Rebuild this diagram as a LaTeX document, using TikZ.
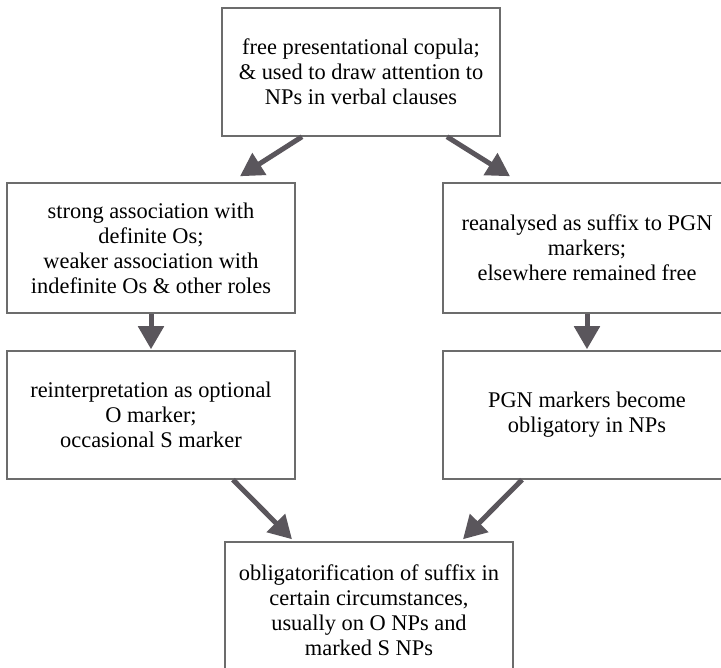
\documentclass[tikz,border=0pt]{standalone}
\usepackage{fontspec}
\setmainfont{Liberation Serif}
\usetikzlibrary{arrows.meta}
\definecolor{boxline}{RGB}{108,108,108}
\definecolor{arrowgray}{RGB}{90,86,92}
\tikzset{stage/.style = {draw=boxline, line width=1.5pt, align=center, inner sep=0pt, font=\fontsize{22.4}{25}\selectfont}}
\tikzset{flow/.style = {draw=arrowgray, line width=5pt, -{Triangle[length=23pt,width=25pt]}}}

\begin{document}
\begin{tikzpicture}[x=1pt, y=1pt]
		% Frame
		\useasboundingbox (0,0) rectangle (721,-668);
		\clip (0,0) rectangle (721,-668);

		% Boxes
		\node[stage, minimum width=278, minimum height=128] (copula) at (361,-72)
			{free presentational copula;\\ \& used to draw attention to\\ NPs in verbal clauses};
		\node[stage, minimum width=288, minimum height=130] (assoc) at (151,-248)
			{strong association with\\ definite Os;\\ weaker association with\\ indefinite Os \& other roles};
		\node[stage, minimum width=288, minimum height=130] (suffix) at (587,-248)
			{reanalysed as suffix to PGN\\ markers;\\ elsewhere remained free};
		\node[stage, minimum width=288, minimum height=128] (omarker) at (151,-415)
			{reinterpretation as optional\\ O marker;\\ occasional S marker};
		\node[stage, minimum width=288, minimum height=128] (pgn) at (587,-415)
			{PGN markers become\\ obligatory in NPs};
		\node[stage, minimum width=288, minimum height=136] (oblig) at (369,-610)
			{obligatorification of suffix in\\ certain circumstances,\\ usually on O NPs and\\ marked S NPs};

		% Arrows
		\draw[flow] ([xshift=-59]copula.south) -- ([xshift=89, yshift=6]assoc.north);
		\draw[flow] ([xshift=86]copula.south) -- ([xshift=-77, yshift=6]suffix.north);
		\draw[flow] (assoc.south) -- ([yshift=1]omarker.north);
		\draw[flow] (suffix.south) -- ([yshift=1]pgn.north);
		\draw[flow] ([xshift=82]omarker.south) -- ([xshift=-77, yshift=2]oblig.north);
		\draw[flow] ([xshift=-65]pgn.south) -- ([xshift=94, yshift=2]oblig.north);
\end{tikzpicture}
\end{document}
